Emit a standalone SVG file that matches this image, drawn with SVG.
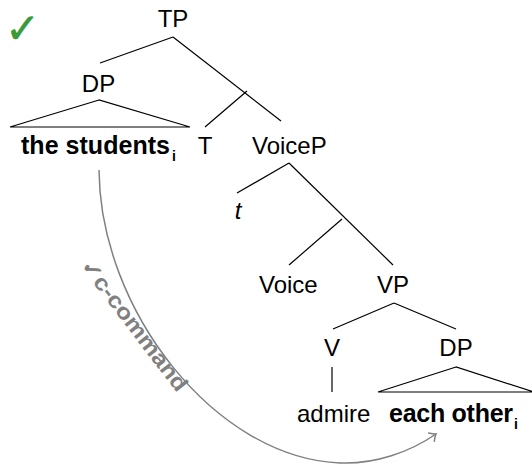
<svg xmlns="http://www.w3.org/2000/svg" width="532" height="465" viewBox="0 0 532 465">
  <style>
    .lbl { font-family: "Liberation Sans", Arial, sans-serif; font-size: 24px; fill: #000; }
    .bold { font-family: "Liberation Sans", Arial, sans-serif; font-size: 25px; font-weight: bold; fill: #000; }
    .sub { font-family: "Liberation Sans", Arial, sans-serif; font-size: 14px; font-weight: bold; fill: #000; }
    .edge { stroke: #000; stroke-width: 1.2; fill: none; }
    .arc { stroke: #808080; stroke-width: 1.5; fill: none; }
    .note { font-family: "Liberation Sans", Arial, sans-serif; font-size: 22px; font-weight: bold; fill: #808080; }
  </style>
  <defs>
    <marker id="tip" markerWidth="14" markerHeight="14" refX="7" refY="7" orient="auto" markerUnits="userSpaceOnUse">
      <path d="M1.5,2 Q5,6 7,7 Q5,8 1.5,12" fill="none" stroke="#808080" stroke-width="1.5" stroke-linecap="round"/>
    </marker>
  </defs>

  <rect width="532" height="465" fill="#fff"/>

  <!-- grammaticality mark -->
  <text x="5" y="43" font-family="DejaVu Sans, sans-serif" font-size="42" font-weight="bold" fill="#3a9a3a" stroke="#3a9a3a" stroke-width="0.6">✓</text>

  <!-- tree branches -->
  <g id="connectors">
    <line class="edge" x1="173" y1="37" x2="100" y2="63"/>
    <line class="edge" x1="173" y1="37" x2="281" y2="121"/>
    <line class="edge" x1="247" y1="91" x2="205" y2="127"/>
    <polygon class="edge" points="99,100 10,127 190,127"/>
    <line class="edge" x1="289" y1="163" x2="237" y2="193"/>
    <line class="edge" x1="289" y1="163" x2="393" y2="265"/>
    <line class="edge" x1="342" y1="219" x2="289" y2="265"/>
    <line class="edge" x1="394" y1="303" x2="333" y2="329"/>
    <line class="edge" x1="394" y1="303" x2="456" y2="329"/>
    <line class="edge" x1="332" y1="367" x2="332" y2="392"/>
    <polygon class="edge" points="456,367 378,392 534,392"/>
    <!-- binding relation -->
    <path class="arc" d="M99,170 C100,310 215,458 340,463 C375,464.4 410,452 436,434" marker-end="url(#tip)"/>
  </g>

  <g id="TP"><text class="lbl" x="173" y="27" text-anchor="middle">TP</text></g>
  <g id="DP1"><text class="lbl" x="98.5" y="92" text-anchor="middle">DP</text></g>
  <g id="students">
    <text class="bold" x="21" y="154" textLength="149" lengthAdjust="spacing">the students</text>
    <text class="sub" x="172" y="161">i</text>
  </g>
  <g id="T"><text class="lbl" x="205" y="154" text-anchor="middle">T</text></g>
  <g id="VoiceP"><text class="lbl" x="252" y="154">VoiceP</text></g>
  <g id="trace"><text class="lbl" x="238" y="219" text-anchor="middle" font-style="italic">t</text></g>
  <g id="Voice"><text class="lbl" x="259" y="293">Voice</text></g>
  <g id="VP"><text class="lbl" x="377" y="293">VP</text></g>
  <g id="V"><text class="lbl" x="332" y="356" text-anchor="middle">V</text></g>
  <g id="DP2"><text class="lbl" x="456" y="356" text-anchor="middle">DP</text></g>
  <g id="admire"><text class="lbl" x="297" y="422">admire</text></g>
  <g id="eachother">
    <text class="bold" x="389" y="422" textLength="124" lengthAdjust="spacing">each other</text>
    <text class="sub" x="514" y="429">i</text>
  </g>

  <!-- label of the binding relation -->
  <g id="ccommand">
    <text class="note" transform="translate(80,266) rotate(52.6)" textLength="160" lengthAdjust="spacingAndGlyphs">✓c-command</text>
  </g>
</svg>
